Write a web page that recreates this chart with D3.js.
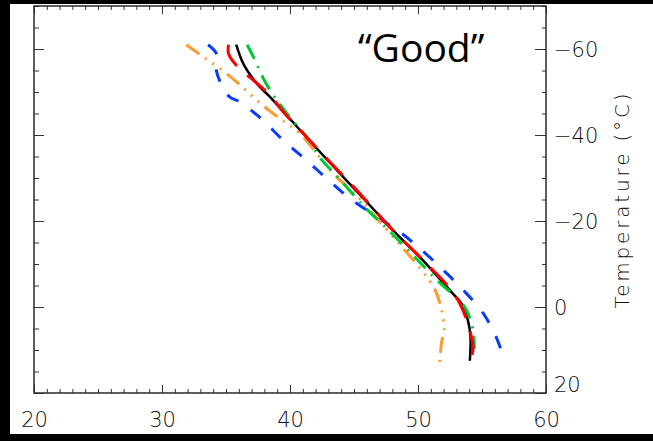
<!DOCTYPE html>
<meta charset="utf-8">
<style>
body { margin: 0; background: #000; }
.tick line { stroke: #333; }
.lbl text { font-family: "DejaVu Sans", sans-serif; font-weight: 200; font-size: 21px; fill: #111; }
.curve { fill: none; }
</style>
<svg width="653" height="441"></svg>
<script src="https://cdn.jsdelivr.net/npm/d3@7"></script>
<script>

// tick labels
var xTicks = [20, 30, 40, 50, 60],
    yTicks = [-60, -40, -20, 0, 20];

// curves: x value vs temperature
var blackX = [35.8, 36.35, 37.4, 38.45, 40.8, 42.45, 46.6, 48.55, 50.15, 52.6, 53.4, 53.9, 54.1, 54.05],
    blackT = [-61, -56.6, -52, -48.8, -41.1, -35.7, -22.5, -16.3, -11.6, -3.5, -0.8, 3.1, 7, 12.5];
var redX = [35.2, 35.2, 36.05, 37.15, 38.45, 39.5, 40.8, 43.25, 45.45, 48.05, 50.15, 52.6, 53.4, 54.05, 54.3, 54.05],
    redT = [-61, -58.9, -55.4, -52.7, -49.2, -45.3, -41.1, -33.3, -26.4, -17.8, -11.6, -3.9, 0, 5.4, 9.7, 12.8];
var greenX = [36.65, 37.15, 38.2, 39.75, 41.5, 42.3, 43.95, 45.8, 47.45, 49.5, 51.5, 53.2, 53.8, 54.3, 54.4],
    greenT = [-61, -58.1, -51.6, -45, -38.8, -34.9, -29.5, -23.3, -18.6, -12.4, -6.2, -1.6, 0.8, 5.4, 9.7];
var blueX = [33.6, 34.25, 34.25, 34.55, 35.3, 36.1, 37.15, 37.9, 39.6, 41.3, 43, 44.7, 46.6, 48.6, 50.15, 52, 53.55, 55.1, 56.15, 56.8],
    blueT = [-61, -58.9, -55, -52.3, -48.8, -47.7, -45.3, -43.4, -38.4, -34.1, -29.5, -25.2, -21.3, -17.4, -13.6, -8.5, -3.9, 1.5, 7.3, 12.8];
var orangeX = [31.9, 33.25, 34.55, 35.85, 36.9, 38.2, 39.6, 40.65, 43.4, 45.45, 46.8, 48.85, 50.4, 51.35, 51.85, 52.05, 51.85, 51.7],
    orangeT = [-61, -58.1, -55.4, -52.3, -49.5, -46.1, -43, -40.7, -31, -25.2, -20.6, -13.6, -8.1, -3.9, 0.8, 5.4, 8.1, 12.8];

var svg = d3.select("svg");

svg.append("rect").attr("width", 653).attr("height", 441).attr("fill", "#000");
svg.append("rect").attr("x", 10).attr("y", 4).attr("width", 643).attr("height", 430).attr("fill", "#fff");

var x = d3.scaleLinear().domain([20, 60]).range([34, 546]),
    y = d3.scaleLinear().domain([-70, 20]).range([6, 393]);

var minorX = d3.range(20, 61, 1),
    minorY = d3.range(-70, 21, 5);

function ticks(axis, tx, ty, vals, size) {
  var g = svg.append("g")
      .attr("transform", "translate(" + tx + "," + ty + ")")
      .call(axis.tickValues(vals).tickSize(size).tickSizeOuter(0).tickFormat(""));
  g.select(".domain").remove();
}

// bottom / top ticks, pointing inward
ticks(d3.axisTop(x), 0, 393, minorX, 4);
ticks(d3.axisTop(x), 0, 393, xTicks, 8);
ticks(d3.axisBottom(x), 0, 6, minorX, 4);
ticks(d3.axisBottom(x), 0, 6, xTicks, 8);
// left / right ticks
ticks(d3.axisRight(y), 34, 0, minorY, 5);
ticks(d3.axisRight(y), 34, 0, yTicks, 10);
ticks(d3.axisLeft(y), 546, 0, minorY, 4);
ticks(d3.axisLeft(y), 546, 0, yTicks, 11);

svg.append("rect")
    .attr("x", 34).attr("y", 6)
    .attr("width", 512).attr("height", 387)
    .attr("fill", "none")
    .attr("stroke", "#2a2a2a")
    .attr("stroke-width", 1.5);

// labels
var xl = svg.append("g").attr("class", "lbl")
    .attr("transform", "translate(0,393)")
    .call(d3.axisBottom(x).tickValues(xTicks).tickSize(0).tickPadding(19));
xl.select(".domain").remove();

var yl = svg.append("g").attr("class", "lbl")
    .attr("transform", "translate(546,0)")
    .call(d3.axisRight(y).tickValues(yTicks).tickSize(0).tickPadding(8));
yl.select(".domain").remove();
yl.selectAll("text").attr("dy", function(d) { return d === 20 ? "-0.05em" : "0.38em"; });

svg.append("text")
    .attr("transform", "translate(629,201) rotate(-90)")
    .attr("text-anchor", "middle")
    .attr("font-family", "DejaVu Sans, sans-serif")
    .attr("font-weight", 200)
    .attr("font-size", 20)
    .attr("fill", "#111")
    .attr("textLength", 215)
    .text("Temperature (°C)");

svg.append("text")
    .attr("x", 358).attr("y", 62)
    .attr("font-family", "Open Sans, sans-serif")
    .attr("font-size", 39)
    .attr("fill", "#000")
    .text("\u201cGood\u201d");

// curves
var line = d3.line()
    .curve(d3.curveCatmullRom.alpha(0.5))
    .x(function(d) { return x(d[0]); })
    .y(function(d) { return y(d[1]); });

var series = [
  {xs: blueX, ts: blueT, color: "#0a3cff", width: 3, dash: "13,15"},
  {xs: orangeX, ts: orangeT, color: "#ff9933", width: 3, dash: "16,7,2,7,2,7,2,7"},
  {xs: blackX, ts: blackT, color: "#000", width: 2.5, dash: null},
  {xs: greenX, ts: greenT, color: "#00c832", width: 3, dash: "16,8,2,8"},
  {xs: redX, ts: redT, color: "#ff0000", width: 3, dash: "24,14"}
];

svg.selectAll(".curve")
  .data(series)
  .enter().append("path")
    .attr("class", "curve")
    .attr("d", function(s) { return line(s.xs.map(function(v, i) { return [v, s.ts[i]]; })); })
    .attr("stroke", function(s) { return s.color; })
    .attr("stroke-width", function(s) { return s.width; })
    .attr("stroke-dasharray", function(s) { return s.dash; });

</script>
